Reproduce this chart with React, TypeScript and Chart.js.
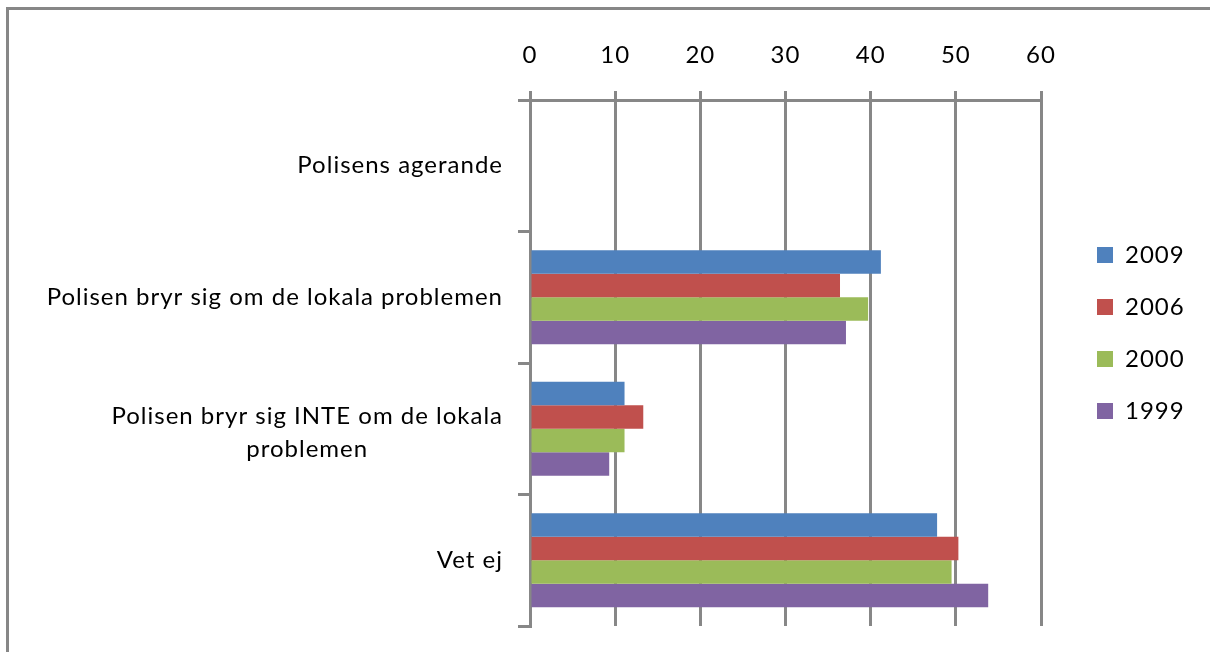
import React, { useEffect, useRef } from "react";
import { Chart, registerables } from "chart.js";

Chart.register(...registerables);

const categories: string[][] = [
  ["Polisens agerande"],
  ["Polisen bryr sig om de lokala problemen"],
  ["Polisen bryr sig INTE om de lokala", "problemen"],
  ["Vet ej"],
];

const seriesNames = ["2009", "2006", "2000", "1999"];
const values2009: (number | null)[] = [null, 41.2, 11.1, 47.8];
const values2006: (number | null)[] = [null, 36.4, 13.3, 50.3];
const values2000: (number | null)[] = [null, 39.7, 11.1, 49.5];
const values1999: (number | null)[] = [null, 37.1, 9.3, 53.8];
const seriesColors = ["#4F81BD", "#C0504D", "#9BBB59", "#8064A2"];

const xMin = 0;
const xMax = 60;
const xStep = 10;

const FONT = "Lato";
const FONT_SIZE = 24;
const GRID = "#878787";

const spacingPlugin = {
  id: "letterSpacing",
  beforeDraw(chart: any) {
    (chart.ctx as any).letterSpacing = "1px";
  },
};

const categoryLabelPlugin = {
  id: "categoryLabels",
  afterDraw(chart: any) {
    const yScale = chart.scales.y;
    const ctx = chart.ctx;
    const opts = yScale.options;
    const right = yScale.right - opts.grid.tickLength - opts.ticks.padding + 1;
    ctx.save();
    ctx.font = `${FONT_SIZE}px ${FONT}`;
    (ctx as any).letterSpacing = "1px";
    ctx.fillStyle = "#000";
    ctx.textBaseline = "middle";
    ctx.textAlign = "center";
    const lh = 33;
    categories.forEach((lines, i) => {
      const y = yScale.getPixelForTick(i) + (lines.length - 1) * 4;
      const widest = Math.max(...lines.map((l) => ctx.measureText(l).width));
      const cx = right - widest / 2;
      lines.forEach((line, j) => {
        ctx.fillText(line, cx, y + (j - (lines.length - 1) / 2) * lh);
      });
    });
    ctx.restore();
  },
};

const legendShiftPlugin = {
  id: "legendShift",
  afterLayout(chart: any) {
    const l = chart.legend;
    if (l) {
      l.left += 28;
      l.width = chart.width - l.left;
      l.right = chart.width;
    }
  },
};

export default function App() {
  const ref = useRef<HTMLCanvasElement | null>(null);

  useEffect(() => {
    if (!ref.current) return;
    const data = [values2009, values2006, values2000, values1999];
    const chart = new Chart(ref.current, {
      type: "bar",
      data: {
        labels: categories.map((c) => c.join(" ")),
        datasets: seriesNames.map((name, i) => ({
          label: name,
          data: data[i],
          backgroundColor: seriesColors[i],
          borderWidth: 0,
          categoryPercentage: 0.715,
          barPercentage: 1,
        })),
      },
      options: {
        indexAxis: "y",
        responsive: false,
        animation: false,
        devicePixelRatio: 1,
        layout: { padding: { top: 30, left: 0, right: 69, bottom: 26 } },
        plugins: {
          tooltip: { enabled: false },
          legend: {
            position: "right",
            maxWidth: 100,
            labels: {
              color: "#000",
              font: { family: FONT, size: FONT_SIZE },
              boxWidth: 16,
              boxHeight: 16,
              padding: 28,
            },
          },
        },
        scales: {
          x: {
            position: "top",
            min: xMin,
            max: xMax,
            afterFit: (s: any) => {
              s.height = 60;
            },
            ticks: {
              stepSize: xStep,
              color: "#000",
              font: { family: FONT, size: FONT_SIZE },
              padding: 21,
            },
            grid: {
              color: GRID,
              lineWidth: 3,
              tickLength: 9,
              drawTicks: true,
            },
            border: { display: true, color: GRID, width: 3 },
          },
          y: {
            offset: true,
            afterFit: (s: any) => {
              s.width = 521;
            },
            ticks: { display: false, padding: 16 },
            grid: {
              offset: true,
              drawOnChartArea: false,
              drawTicks: true,
              tickLength: 12,
              color: GRID,
              lineWidth: 3,
            },
            border: { display: true, color: GRID, width: 3 },
          },
        },
      },
      plugins: [spacingPlugin, categoryLabelPlugin, legendShiftPlugin],
    } as any);
    return () => chart.destroy();
  }, []);

  return (
    <>
      <div
        style={{
          position: "fixed",
          left: 6,
          top: 7,
          width: 2000,
          height: 2000,
          borderTop: `3px solid ${GRID}`,
          borderLeft: `3px solid ${GRID}`,
          boxSizing: "border-box",
        }}
      />
      <canvas
        ref={ref}
        width={1201}
        height={642}
        style={{ position: "fixed", left: 9, top: 10, width: 1201, height: 642 }}
      />
    </>
  );
}
